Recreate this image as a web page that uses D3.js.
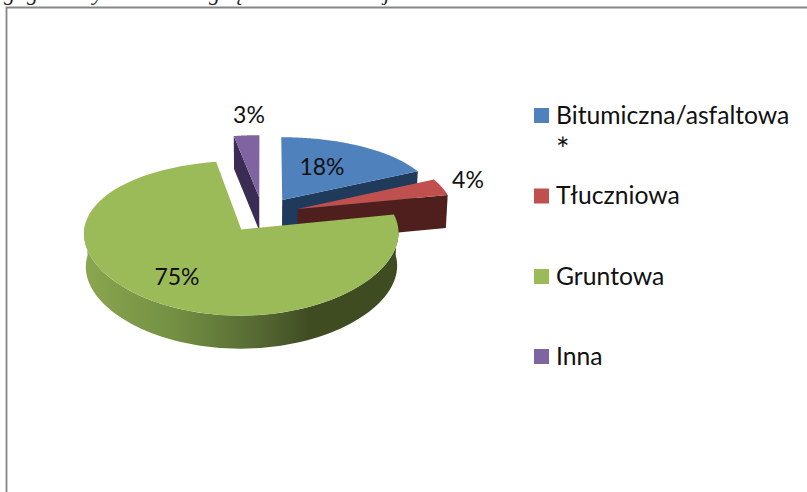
<!DOCTYPE html>
<html>
<head>
<meta charset="utf-8">
<script src="https://cdnjs.cloudflare.com/ajax/libs/d3/7.8.5/d3.min.js"></script>
<style>
	html, body { margin: 0; padding: 0; background: #fff; overflow: hidden; }
	text { font-family: Lato, "Open Sans", sans-serif; fill: #111; }
	.clipped { font-family: "Liberation Serif", serif; font-style: italic; font-size: 22px; fill: #222; }
</style>
</head>
<body>
<div id="chart"></div>
<script>
// Data
const categories = ["Bitumiczna/asfaltowa *", "Tłuczniowa", "Gruntowa", "Inna"];
const values = [17.9, 3.9, 75.4, 2.8];
const topColors = ["#4f81bd", "#c0504d", "#9bbb59", "#8064a2"];
const wallColors = ["#203a5c", "#4f1f1e", "#3f4c22", "#3a2c52"];
const clippedLetters = ["g", "g", "y", "g", "ą", "j"];

// Layout
const width = 807, height = 492;
const cx = 262.5, cy = 214.6;      // centre of the pie before explosion
const radiusX = 155.5, planeY = 73; // disc size on screen
const perspective = 0.112, perspectiveX = 0.05;
const explode = 0.24;
const depth = 33;
const bottomShrink = 0.99;
const labelPos = [[322, 166], [468, 179], [177, 276], [249, 114]];
const clippedX = [4, 27, 93, 209, 232, 384];
const legendY = [115.5, 196, 276.5, 356.5];

const svg = d3.select("#chart").append("svg")
	.attr("width", width)
	.attr("height", height);

// Green wall shading
const grad = svg.append("defs").append("linearGradient")
	.attr("id", "wallGreen")
	.attr("gradientUnits", "userSpaceOnUse")
	.attr("x1", 85).attr("x2", 397).attr("y1", 0).attr("y2", 0);
grad.append("stop").attr("offset", "0%").attr("stop-color", "#8aa64f");
grad.append("stop").attr("offset", "30%").attr("stop-color", "#728e42");
grad.append("stop").attr("offset", "60%").attr("stop-color", "#50622f");
grad.append("stop").attr("offset", "72%").attr("stop-color", "#3f4c22");
grad.append("stop").attr("offset", "100%").attr("stop-color", "#3f4c22");

// Cut off document line above the frame
svg.append("g").selectAll("text")
	.data(clippedLetters).enter().append("text")
	.attr("class", "clipped")
	.attr("x", (d, i) => clippedX[i])
	.attr("y", 0)
	.text(d => d);

// Frame
svg.append("path")
	.attr("d", "M6.5," + height + "V7.5H" + width)
	.attr("fill", "none")
	.attr("stroke", "#868686")
	.attr("stroke-width", 1.8);

// Pie angles, clockwise from 12 o'clock
const slices = d3.pie().sort(null).value(d => d)(values);

// Disc coordinates to screen
function project(x, z, lower) {
	let sx = radiusX * x / (1 - perspectiveX * z);
	const sy = planeY * z / (1 - perspective * z);
	if (lower) sx *= bottomShrink;
	return [cx + sx, cy + sy + (lower ? depth : 0)];
}

function offsetOf(s) {
	const mid = (s.startAngle + s.endAngle) / 2;
	return [explode * Math.sin(mid), -explode * Math.cos(mid)];
}

function rimPoint(s, angle, lower) {
	const o = offsetOf(s);
	return project(o[0] + Math.sin(angle), o[1] - Math.cos(angle), lower);
}

function centerPoint(s, lower) {
	const o = offsetOf(s);
	return project(o[0], o[1], lower);
}

const line = d3.line();

function rim(s, a0, a1, lower) {
	const n = 80;
	return d3.range(n + 1).map(i => rimPoint(s, a0 + (a1 - a0) * i / n, lower));
}

function topPath(s) {
	return line([centerPoint(s, false), ...rim(s, s.startAngle, s.endAngle, false)]) + "Z";
}

// Radial cut face of a slice at the given rim angle
function cutFace(s, angle) {
	return line([centerPoint(s, false), rimPoint(s, angle, false),
		rimPoint(s, angle, true), centerPoint(s, true)]) + "Z";
}

function outerWall(s) {
	const a0 = Math.PI * 0.47, a1 = Math.PI * 1.53;
	return line([...rim(s, a0, a1, false), ...rim(s, a0, a1, true).reverse()]) + "Z";
}

const pieG = svg.append("g");

// Back to front: purple, blue, red, green
[3, 0, 1, 2].forEach(i => {
	const s = slices[i];
	if (i == 2) {
		pieG.append("path").attr("d", outerWall(s)).attr("fill", "url(#wallGreen)");
	} else if (i == 3) {
		pieG.append("path").attr("d", cutFace(s, s.startAngle)).attr("fill", wallColors[i]);
	} else {
		pieG.append("path").attr("d", cutFace(s, s.endAngle)).attr("fill", wallColors[i]);
	}
	pieG.append("path").attr("d", topPath(s)).attr("fill", topColors[i]);
});

// Percent labels
svg.append("g").selectAll("text")
	.data(values).enter().append("text")
	.attr("x", (d, i) => labelPos[i][0])
	.attr("y", (d, i) => labelPos[i][1])
	.attr("text-anchor", "middle")
	.attr("dominant-baseline", "central")
	.style("font-size", "23px")
	.text(d => Math.round(d) + "%");

// Legend
const legend = svg.append("g").selectAll("g")
	.data(categories).enter().append("g")
	.attr("transform", (d, i) => "translate(534," + legendY[i] + ")");

legend.append("rect")
	.attr("x", 0).attr("y", -7.5)
	.attr("width", 15).attr("height", 15)
	.attr("fill", (d, i) => topColors[i]);

legend.append("text")
	.attr("x", 22)
	.attr("y", 8)
	.style("font-size", "24.7px")
	.text(d => d.replace(" *", ""));

// Legend entry wraps in the original
svg.append("text")
	.attr("x", 556)
	.attr("y", 161)
	.style("font-size", "32px")
	.text("*");
</script>
</body>
</html>
